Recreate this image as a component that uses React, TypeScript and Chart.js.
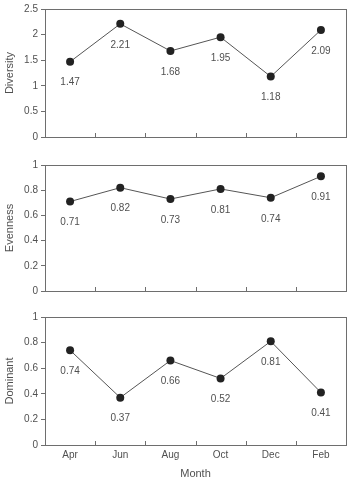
import React, { useEffect, useRef } from "react";
import { Chart, registerables } from "chart.js";

Chart.register(...registerables);

const months = ["Apr", "Jun", "Aug", "Oct", "Dec", "Feb"];
const diversity = [1.47, 2.21, 1.68, 1.95, 1.18, 2.09];
const evenness = [0.71, 0.82, 0.73, 0.81, 0.74, 0.91];
const dominant = [0.74, 0.37, 0.66, 0.52, 0.81, 0.41];

const FONT = "'Liberation Sans', Arial, sans-serif";
const AXIS = "#6e6e6e";
const TEXT = "#505050";

const boxPlugin = {
  id: "boxAndTicks",
  afterDraw(chart: any) {
    const { ctx, chartArea } = chart;
    const x = chart.scales.x;
    ctx.save();
    ctx.strokeStyle = AXIS;
    ctx.lineWidth = 1;
    ctx.strokeRect(
      Math.round(chartArea.left) + 0.5,
      Math.round(chartArea.top) + 0.5,
      Math.round(chartArea.right - chartArea.left),
      Math.round(chartArea.bottom - chartArea.top)
    );
    const n = chart.data.labels.length;
    for (let i = 0; i < n - 1; i++) {
      const px = Math.round(x.getPixelForValue(i + 0.5)) + 0.5;
      ctx.beginPath();
      ctx.moveTo(px, chartArea.bottom);
      ctx.lineTo(px, chartArea.bottom - 4);
      ctx.stroke();
    }
    ctx.restore();
  },
};

const labelPlugin = {
  id: "valueLabels",
  afterDatasetsDraw(chart: any) {
    const { ctx } = chart;
    const meta = chart.getDatasetMeta(0);
    const data = chart.data.datasets[0].data;
    ctx.save();
    ctx.fillStyle = TEXT;
    ctx.font = `10px ${FONT}`;
    ctx.textAlign = "center";
    ctx.textBaseline = "middle";
    meta.data.forEach((pt: any, i: number) => {
      ctx.fillText(String(data[i]), pt.x, pt.y + 21);
    });
    ctx.restore();
  },
};

type PanelProps = {
  values: number[];
  yMax: number;
  step: number;
  title: string;
  height: number;
  top: number;
  areaTop: number;
  areaBottom: number;
  showX: boolean;
};

function Panel(p: PanelProps) {
  const ref = useRef<HTMLCanvasElement>(null);
  useEffect(() => {
    const chart = new Chart(ref.current!, {
      type: "line",
      data: {
        labels: months,
        datasets: [
          {
            data: p.values,
            borderColor: "#555555",
            borderWidth: 1,
            pointRadius: 4,
            pointBackgroundColor: "#222222",
            pointBorderColor: "#222222",
            pointBorderWidth: 0,
            tension: 0,
          },
        ],
      },
      options: {
        responsive: false,
        animation: false,
        events: [],
        layout: { padding: { top: p.areaTop, right: 4, left: 0, bottom: 0 } },
        plugins: { legend: { display: false }, tooltip: { enabled: false } },
        scales: {
          x: {
            type: "category",
            offset: true,
            grid: { display: false, offset: true, drawTicks: false },
            border: { display: false },
            ticks: {
              display: p.showX,
              color: TEXT,
              font: { family: FONT, size: 10 },
              padding: 4,
              maxRotation: 0,
            },
            title: {
              display: p.showX,
              text: "Month",
              color: TEXT,
              font: { family: FONT, size: 11 },
              padding: { top: 0, bottom: -2 },
            },
            afterFit: (s: any) => {
              s.height = p.height - p.areaBottom;
            },
          },
          y: {
            min: 0,
            max: p.yMax,
            grid: {
              drawOnChartArea: false,
              drawTicks: true,
              tickLength: 4,
              color: AXIS,
            },
            border: { display: false },
            ticks: {
              stepSize: p.step,
              color: TEXT,
              font: { family: FONT, size: 10 },
              padding: 3,
              callback: (v: any) => String(+Number(v).toFixed(2)),
            },
            title: {
              display: true,
              text: p.title,
              color: TEXT,
              font: { family: FONT, size: 11 },
              padding: { top: 3, bottom: 0 },
            },
            afterFit: (s: any) => {
              s.width = 45;
            },
          },
        },
      },
      plugins: [boxPlugin, labelPlugin],
    });
    return () => chart.destroy();
  }, []);
  return (
    <canvas
      ref={ref}
      width={350}
      height={p.height}
      style={{ position: "absolute", left: 0, top: p.top, width: 350, height: p.height }}
    />
  );
}

export default function App() {
  return (
    <div style={{ position: "absolute", left: 0, top: 0, width: 350, height: 479, background: "#fff" }}>
      <Panel values={diversity} yMax={2.5} step={0.5} title="Diversity" height={150} top={0} areaTop={8} areaBottom={137} showX={false} />
      <Panel values={evenness} yMax={1} step={0.2} title="Evenness" height={150} top={150} areaTop={15} areaBottom={143} showX={false} />
      <Panel values={dominant} yMax={1} step={0.2} title="Dominant" height={179} top={300} areaTop={17} areaBottom={145} showX={true} />
    </div>
  );
}
